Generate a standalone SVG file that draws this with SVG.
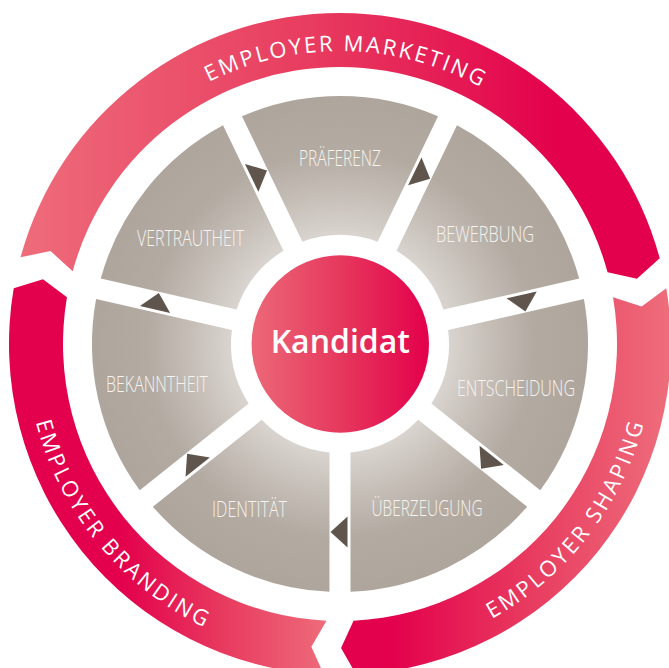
<svg xmlns="http://www.w3.org/2000/svg" width="669" height="668" viewBox="0 0 669 668">
<style>
.ring{font-family:"Open Sans","Liberation Sans",sans-serif;font-size:22px;fill:#ffffff;font-weight:400}
.lbl{font-family:"Open Sans","Liberation Sans",sans-serif;font-size:22px;font-weight:300;fill:#f6f3f0;text-anchor:middle}
.ctr{font-family:"Open Sans","Liberation Sans",sans-serif;font-size:32px;font-weight:600;fill:#ffffff;text-anchor:middle}
.seg{fill:url(#gSeg)}
.arr{fill:#5f554c}
</style>
<defs>
<linearGradient id="gMkt" gradientUnits="userSpaceOnUse" x1="14" y1="0" x2="560" y2="0">
<stop offset="0" stop-color="#ee6d7b"/><stop offset="0.55" stop-color="#e83b5f"/><stop offset="1" stop-color="#e3004c"/>
</linearGradient>
<linearGradient id="gShp" gradientUnits="userSpaceOnUse" x1="669" y1="0" x2="390" y2="0">
<stop offset="0" stop-color="#ee6d7b"/><stop offset="0.5" stop-color="#e83b5f"/><stop offset="1" stop-color="#e3004c"/>
</linearGradient>
<linearGradient id="gBrd" gradientUnits="userSpaceOnUse" x1="120" y1="0" x2="330" y2="0">
<stop offset="0" stop-color="#e3004c"/><stop offset="0.5" stop-color="#e83b5f"/><stop offset="1" stop-color="#ee6d7b"/>
</linearGradient>
<linearGradient id="gCtr" gradientUnits="userSpaceOnUse" x1="252" y1="0" x2="429" y2="0">
<stop offset="0" stop-color="#ec6877"/><stop offset="0.5" stop-color="#e6385d"/><stop offset="1" stop-color="#e3004c"/>
</linearGradient>
<radialGradient id="gSeg" gradientUnits="userSpaceOnUse" cx="0" cy="0" r="248">
<stop offset="0.44" stop-color="#d9d4cf"/><stop offset="0.6" stop-color="#c6bfb8"/><stop offset="0.78" stop-color="#b3aba2"/><stop offset="1" stop-color="#aea59c"/>
</radialGradient>
<path id="seg" d="M -98.04 -227.80 A 248 248 0 0 1 98.04 -227.80 L 37.61 -102.30 A 109 109 0 0 0 -37.61 -102.30 Z"/>
<polygon id="arr" points="-7.5,-203.5 -7.5,-172.5 9.5,-188"/>
<path id="pMkt" d="M 47 344 A 293 293 0 0 1 633 344"/>
<path id="pShp" d="M 297.93 655.17 A 314 314 0 0 0 630.52 224.85"/>
<path id="pBrd" d="M 45.69 234.55 A 314 314 0 0 0 392.37 653.60"/>
</defs>
<rect x="0" y="0" width="669" height="668" fill="#ffffff"/>

<g id="employer-marketing">
<path fill="url(#gMkt)" d="M 20.58 257.22 A 331 331 0 0 1 659.72 258.33 L 636.91 278.72 L 607.56 272.31 A 277 277 0 0 0 72.69 271.37 L 50.55 251.07 Z"/>
<text class="ring" letter-spacing="2.4"><textPath href="#pMkt" startOffset="50.7%" text-anchor="middle">EMPLOYER MARKETING</textPath></text>
</g>
<g id="employer-shaping">
<path fill="url(#gShp)" d="M 666.27 288.23 A 331 331 0 0 1 356.17 674.60 L 341.06 648.0 L 353.53 620.67 A 277 277 0 0 0 613.04 297.33 L 641.67 306.43 Z"/>
<text class="ring" letter-spacing="2.8"><textPath href="#pShp" startOffset="50%" text-anchor="middle">EMPLOYER SHAPING</textPath></text>
</g>
<g id="employer-branding">
<path fill="url(#gBrd)" d="M 323.83 674.60 A 331 331 0 0 1 13.73 288.23 L 42.98 279.24 L 66.96 297.33 A 277 277 0 0 0 326.47 620.67 L 311.39 646.65 Z"/>
<text class="ring" letter-spacing="2.7"><textPath href="#pBrd" startOffset="50%" text-anchor="middle">EMPLOYER BRANDING</textPath></text>
</g>

<g id="praeferenz">
<use href="#seg" class="seg" transform="translate(340 344)"/>
<text class="lbl" x="340" y="166" textLength="82" lengthAdjust="spacingAndGlyphs">PRÄFERENZ</text>
</g>
<g id="bewerbung">
<use href="#seg" class="seg" transform="translate(340 344) rotate(51.4286)"/>
<text class="lbl" x="485" y="242" textLength="98" lengthAdjust="spacingAndGlyphs">BEWERBUNG</text>
</g>
<g id="entscheidung">
<use href="#seg" class="seg" transform="translate(340 344) rotate(102.857)"/>
<text class="lbl" x="516" y="396" textLength="118" lengthAdjust="spacingAndGlyphs">ENTSCHEIDUNG</text>
</g>
<g id="ueberzeugung">
<use href="#seg" class="seg" transform="translate(340 344) rotate(154.286)"/>
<text class="lbl" x="427" y="516" textLength="111" lengthAdjust="spacingAndGlyphs">ÜBERZEUGUNG</text>
</g>
<g id="identitaet">
<use href="#seg" class="seg" transform="translate(340 344) rotate(205.714)"/>
<text class="lbl" x="249.5" y="517" textLength="75" lengthAdjust="spacingAndGlyphs">IDENTITÄT</text>
</g>
<g id="bekanntheit">
<use href="#seg" class="seg" transform="translate(340 344) rotate(257.143)"/>
<text class="lbl" x="157" y="392" textLength="102" lengthAdjust="spacingAndGlyphs">BEKANNTHEIT</text>
</g>
<g id="vertrautheit">
<use href="#seg" class="seg" transform="translate(340 344) rotate(308.571)"/>
<text class="lbl" x="190.5" y="246" textLength="107" lengthAdjust="spacingAndGlyphs">VERTRAUTHEIT</text>
</g>

<g id="kandidat">
<circle cx="340.3" cy="344" r="88.7" fill="url(#gCtr)"/>
<text class="ctr" x="340.3" y="352.7">Kandidat</text>
</g>

<g id="connectors">
<use href="#arr" class="arr" transform="translate(340 344) rotate(-25.714)"/>
<use href="#arr" class="arr" transform="translate(340 344) rotate(25.714)"/>
<use href="#arr" class="arr" transform="translate(340 344) rotate(77.143)"/>
<use href="#arr" class="arr" transform="translate(340 344) rotate(128.571)"/>
<use href="#arr" class="arr" transform="translate(340 344) rotate(180)"/>
<use href="#arr" class="arr" transform="translate(340 344) rotate(231.429)"/>
<use href="#arr" class="arr" transform="translate(340 344) rotate(282.857)"/>
</g>
</svg>
